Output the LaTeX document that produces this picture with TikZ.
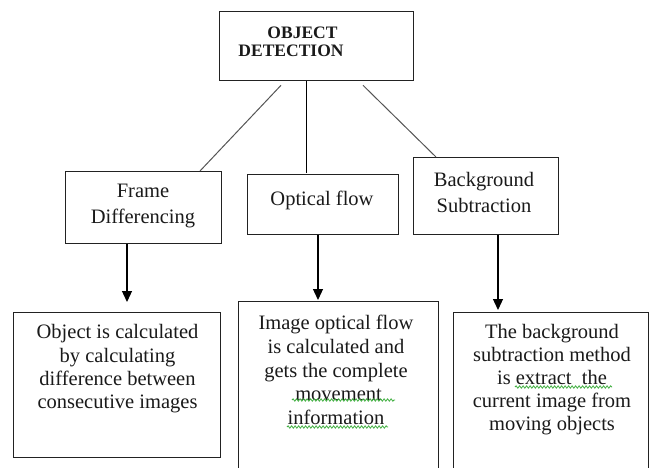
\documentclass[tikz,border=0pt]{standalone}
\usepackage{fontspec}
\setmainfont{Liberation Serif}
\usetikzlibrary{calc,arrows.meta,decorations.pathmorphing}
\definecolor{boxcol}{HTML}{222222}
\definecolor{linecol}{HTML}{555555}
\definecolor{txtcol}{HTML}{1A1A1A}
\definecolor{squigcol}{HTML}{3FAF3F}
\begin{document}
\begin{tikzpicture}[x=1pt,y=-1pt,
  boxnode/.style={draw=boxcol, line width=1.3pt, inner sep=0pt, anchor=north west, fill=white},
  txt/.style={inner sep=0pt, align=center, text=txtcol, font=\fontsize{20.5}{#1}\selectfont},
  txt/.default={23.5},
  topline/.style={draw=linecol, line width=1pt},
  arr/.style={draw=black, line width=1.3pt, -{Triangle[width=10pt,length=11pt]}},
  squig/.style={draw=squigcol, line width=0.8pt, decorate, decoration={snake, amplitude=1.2pt, segment length=3.5pt}}]
\useasboundingbox (0,0) rectangle (654,468);
\clip (0,0) rectangle (654,468);
% boxes
\node[boxnode, minimum width=194pt, minimum height=69pt] (top) at (219,11) {};
\node[boxnode, minimum width=156pt, minimum height=72pt] (frame) at (65,171) {};
\node[boxnode, minimum width=151pt, minimum height=60pt] (optical) at (247,174) {};
\node[boxnode, minimum width=145pt, minimum height=77pt] (back) at (413,157) {};
\node[boxnode, minimum width=207pt, minimum height=145pt] (bl) at (13,312) {};
\node[boxnode, minimum width=200pt, minimum height=190pt] (bm) at (238,301) {};
\node[boxnode, minimum width=195pt, minimum height=180pt] (br) at (453,312) {};
% texts
\node[inner sep=0pt, align=left, text=txtcol, font=\bfseries\fontsize{17.5}{18}\selectfont] (topT) at (291,42) {\hspace*{29pt}OBJECT\\DETECTION};
\node[txt=26.5] (frameT) at (143,206) {Frame\\Differencing};
\node[txt] (opticalT) at (322,200) {Optical flow};
\node[txt=26] (backT) at (484,192) {Background\\Subtraction};
\node[txt=23.3] (blT) at (117.5,369) {Object is calculated\\by calculating\\difference between\\consecutive images};
\node[txt=23.75] (bmT) at (336,370) {Image optical flow\\is calculated and\\gets the complete\\\ movement\\information};
\node[txt=23] (brT) at (552,380) {The background\\subtraction method\\is extract\ \ the\\current image from\\moving objects};
% connectors from top
\draw[topline] ($(top.south west)+(62,4)$) -- ($(frame.north west)+(135,0)$);
\draw[topline, draw=black] ($(top.south west)+(87,0)$) -- ($(top.south west)+(87,92)$);
\draw[topline] ($(top.south west)+(144,4)$) -- ($(back.north west)+(23,0)$);
% arrows
\draw[arr] ($(frame.south west)+(62,0)$) -- ($(bl.north west)+(114,-10)$);
\draw[arr] ($(optical.south west)+(71,0)$) -- ($(bm.north west)+(80,-1)$);
\draw[arr] ($(back.south west)+(85,0)$) -- ($(br.north west)+(45,-2)$);
% spell-check squiggles
\draw[squig] (292,400) -- (395,400);
\draw[squig] (287,427) -- (388,427);
\draw[squig] (515,387) -- (612,387);
\end{tikzpicture}
\end{document}
